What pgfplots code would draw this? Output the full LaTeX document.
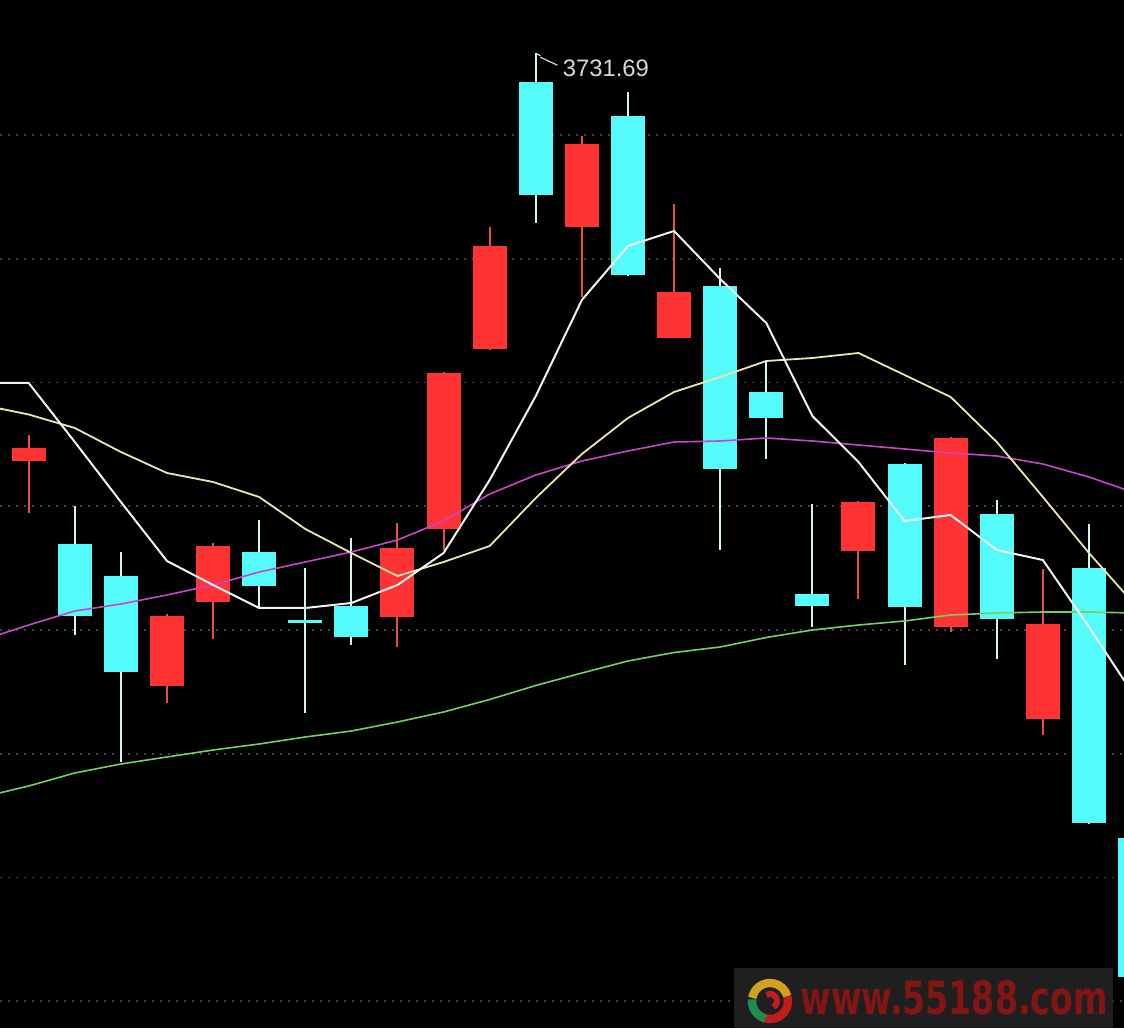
\documentclass[border=0pt]{standalone}
\usepackage{fontspec}
\setmainfont{Liberation Sans}
\newfontfamily\wmfont{DejaVu Sans}
\usepackage{pgfplots}
\pgfplotsset{compat=1.18}
\usepackage{pgfplotstable}
\definecolor{kred}{HTML}{FF3333}
\definecolor{kcyan}{HTML}{55FAFA}
\definecolor{kredwick}{HTML}{E8503C}
\definecolor{kcyanwick}{HTML}{CFF5F5}
\definecolor{maA}{HTML}{F2F2F2}
\definecolor{maB}{HTML}{EDE6A6}
\definecolor{maC}{HTML}{C846C8}
\definecolor{maD}{HTML}{74D060}
\definecolor{gridc}{HTML}{404040}
\definecolor{lbl}{HTML}{D8D8D8}
\definecolor{wmbox}{HTML}{1F1F1F}
\definecolor{wmred}{HTML}{841515}
\definecolor{logoY}{HTML}{D4A020}
\definecolor{logoR}{HTML}{C01E1E}
\definecolor{logoG}{HTML}{208A50}

\pgfplotstableread{
x open high low close
0 3650.15 3655.35 3639.75 3652.75
3 3605.15 3619.55 3601.75 3619.15
4 3621.95 3633.75 3614.55 3633.15
8 3618.95 3637.75 3612.95 3632.75
9 3636.55 3667.95 3632.35 3667.75
10 3672.55 3696.95 3672.35 3693.15
12 3696.95 3715.15 3682.95 3713.55
14 3674.75 3701.55 3674.75 3683.95
18 3632.15 3642.15 3622.55 3641.95
20 3616.95 3654.95 3615.95 3654.75
22 3598.55 3628.55 3595.35 3617.55
}\redtab

\pgfplotstableread{
x open high low close
1 3633.55 3641.15 3615.35 3619.15
2 3627.15 3631.95 3589.95 3607.95
5 3631.95 3638.35 3620.95 3625.15
6 3618.35 3628.75 3599.75 3617.75
7 3621.15 3634.75 3613.35 3614.95
11 3725.95 3731.69 3697.75 3703.35
13 3719.15 3723.95 3687.15 3687.35
15 3685.15 3688.75 3632.35 3648.55
16 3663.95 3669.95 3650.55 3658.75
17 3623.55 3641.55 3616.95 3621.15
19 3649.55 3649.75 3609.35 3620.95
21 3639.55 3642.35 3610.55 3618.55
23 3628.75 3637.55 3577.55 3577.75
24 3574.75 3574.75 3546.95 3546.95
}\cyantab

\pgfplotstableread{
x ma5 ma10 ma20 ma60
-1 3665.75 3661.35 3614.35 3582.95
0 3665.75 3659.45 3617.35 3585.15
1 3653.95 3656.75 3620.15 3587.75
2 3641.95 3651.95 3621.55 3589.55
3 3630.15 3647.75 3623.35 3590.95
4 3625.35 3645.95 3625.35 3592.35
5 3620.75 3642.95 3627.95 3593.55
6 3620.75 3636.55 3629.95 3594.95
7 3621.75 3631.75 3631.95 3596.15
8 3625.35 3627.15 3634.35 3597.95
9 3631.75 3629.95 3638.15 3599.95
10 3646.35 3633.15 3643.55 3602.45
11 3663.15 3642.75 3647.35 3605.25
12 3682.35 3651.55 3650.15 3607.75
13 3693.15 3658.75 3652.15 3610.15
14 3696.15 3663.95 3653.95 3611.85
15 3686.55 3666.95 3654.15 3612.95
16 3677.75 3670.15 3654.75 3614.85
17 3659.15 3670.75 3654.15 3616.35
18 3649.95 3671.75 3653.35 3617.35
19 3638.15 3667.35 3652.55 3618.15
20 3639.35 3662.95 3651.75 3619.35
21 3632.35 3653.95 3651.15 3619.75
22 3630.35 3642.95 3649.55 3619.95
23 3616.95 3631.75 3646.95 3619.95
24 3602.95 3621.35 3643.75 3619.75
}\matab

\begin{document}
\begin{tikzpicture}
\begin{axis}[
  width=562pt, height=514pt, scale only axis,
  xmin=-0.6226, xmax=23.76, ymin=3536.75, ymax=3742.35,
  axis background/.style={fill=black},
  axis line style={draw=none},
  xtick=\empty,
  ytick={3715.35,3690.6,3665.85,3641.1,3616.35,3591.6,3566.85,3542.1},
  yticklabels={}, ytick style={draw=none},
  ymajorgrids,
  major grid style={gridc, line width=0.9pt, dash pattern=on 1pt off 3pt},
]
% wicks
\addplot[draw=none, mark=none, error bars/.cd, y dir=plus, y explicit, error mark=none,
  error bar style={line width=1pt, draw=kredwick}]
  table[x=x, y=low, y error expr=\thisrow{high}-\thisrow{low}]{\redtab};
\addplot[draw=none, mark=none, error bars/.cd, y dir=plus, y explicit, error mark=none,
  error bar style={line width=1pt, draw=kcyanwick}]
  table[x=x, y=low, y error expr=\thisrow{high}-\thisrow{low}]{\cyantab};
% bodies
\addplot[draw=none, mark=none, error bars/.cd, y dir=plus, y explicit, error mark=none,
  error bar style={line width=17pt, draw=kred}]
  table[x=x, y=open, y error expr=\thisrow{close}-\thisrow{open}]{\redtab};
\addplot[draw=none, mark=none, error bars/.cd, y dir=plus, y explicit, error mark=none,
  error bar style={line width=17pt, draw=kcyan}]
  table[x=x, y=close, y error expr=\thisrow{open}-\thisrow{close}]{\cyantab};
% moving averages
\addplot[maD, line width=0.8pt] table[x=x, y=ma60]{\matab};
\addplot[maC, line width=0.8pt] table[x=x, y=ma20]{\matab};
\addplot[maB, line width=0.9pt] table[x=x, y=ma10]{\matab};
\addplot[maA, line width=1pt] table[x=x, y=ma5]{\matab};
% high label
\draw[lbl, line width=0.6pt] (axis cs:11.10,3730.9) -- (axis cs:11.47,3729.3);
\draw[lbl, line width=0.6pt] (axis cs:11.02,3731.6) -- (axis cs:11.10,3731.2);
\node[lbl, anchor=west, inner sep=0pt, font=\fontsize{11.9pt}{12pt}\selectfont] at (axis cs:11.58,3728.7) {3731.69};
\coordinate (A) at (rel axis cs:0,0);
\coordinate (B) at (rel axis cs:1,1);
\end{axis}
% watermark
\begin{scope}[shift={(A)}]
  \fill[wmbox] (367pt,0pt) rectangle (556.5pt,30pt);
  \begin{scope}[shift={(385pt,13.5pt)}]
    \draw[logoY, line width=4.2pt] (170:9pt) arc[start angle=170, end angle=15, radius=9pt];
    \draw[logoR, line width=4.2pt] (15:9pt) arc[start angle=15, end angle=-115, radius=9pt];
    \draw[logoG, line width=4.2pt] (175:9pt) arc[start angle=175, end angle=255, radius=9pt];
    \draw[logoR, line width=3pt] (120:3.5pt) arc[start angle=120, end angle=-60, radius=3.5pt];
  \end{scope}
  \node[wmred, inner sep=0pt, xscale=0.72, font=\wmfont\bfseries\fontsize{23pt}{24pt}\selectfont] at (477pt,15pt) {www.55188.com};
\end{scope}
\pgfresetboundingbox
\path[use as bounding box] (A) rectangle (B);
\end{tikzpicture}
\end{document}
